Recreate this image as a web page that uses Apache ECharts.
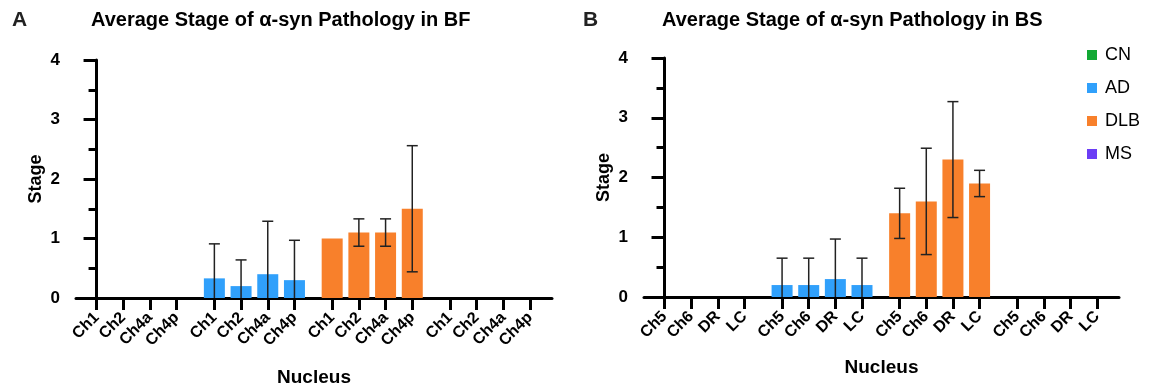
<!DOCTYPE html>
<html>
<head>
<meta charset="utf-8">
<script src="https://cdn.jsdelivr.net/npm/echarts@6/dist/echarts.min.js"></script>
<style>
  html, body { margin: 0; padding: 0; background: #fff; }
  #chart { width: 1152px; height: 389px; }
</style>
</head>
<body>
<div id="chart"></div>
<script>
// groups (legend) and nuclei per panel
const groups = ['CN', 'AD', 'DLB', 'MS']
const bfNuclei = ['Ch1', 'Ch2', 'Ch4a', 'Ch4p']
const bsNuclei = ['Ch5', 'Ch6', 'DR', 'LC']
const yTicks = [0, 1, 2, 3, 4]

// panel A: basal forebrain, mean and SD per group
const bfCN = [0, 0, 0, 0]
const bfAD = [0.33, 0.2, 0.4, 0.3]
const bfADsd = [0.58, 0.44, 0.89, 0.67]
const bfDLB = [1.0, 1.1, 1.1, 1.5]
const bfDLBsd = [0, 0.23, 0.23, 1.06]
const bfMS = [0, 0, 0, 0]

// panel B: brainstem
const bsCN = [0, 0, 0, 0]
const bsAD = [0.2, 0.2, 0.3, 0.2]
const bsADsd = [0.45, 0.45, 0.67, 0.45]
const bsDLB = [1.4, 1.6, 2.3, 1.9]
const bsDLBsd = [0.42, 0.89, 0.97, 0.22]
const bsMS = [0, 0, 0, 0]

const colors = { CN: '#12A834', AD: '#30A0FB', DLB: '#F8802B', MS: '#6B3DF5' }
const FONT = 'Liberation Sans, Arial, Helvetica, sans-serif'

// x layout: groups spaced a bit wider than nuclei
const GROUP_STEP = 4.413
const xPos = (g, i) => g * GROUP_STEP + i
const positions = []
groups.forEach((_, g) => bfNuclei.forEach((_, i) => positions.push(xPos(g, i))))

function labelAt(names) {
  return (v) => {
    let best = 0
    positions.forEach((p, k) => { if (Math.abs(p - v) < Math.abs(positions[best] - v)) best = k })
    return names[best % 4]
  }
}

function xAxis(gridIndex, names, nameGap) {
  return {
    type: 'value', gridIndex, min: -0.77, max: 17.06,
    splitLine: { show: false },
    axisLine: { show: true, lineStyle: { color: '#000', width: 3 } },
    axisTick: { show: true, customValues: positions, length: 12, lineStyle: { color: '#000', width: 3 } },
    axisLabel: {
      customValues: positions, formatter: labelAt(names), rotate: 45, margin: 17,
      color: '#000', fontSize: 16, fontWeight: 'bold', fontFamily: FONT
    },
    name: 'Nucleus', nameLocation: 'middle', nameGap, nameMoveOverlap: false,
    nameTextStyle: { color: '#000', fontSize: 19, fontWeight: 'bold', fontFamily: FONT }
  }
}

function yAxis(gridIndex) {
  return {
    type: 'value', gridIndex, min: yTicks[0], max: yTicks[yTicks.length - 1], interval: 1,
    splitLine: { show: false },
    axisLine: { show: true, lineStyle: { color: '#000', width: 3 } },
    axisTick: { show: true, length: 13, lineStyle: { color: '#000', width: 3 } },
    minorTick: { show: true, splitNumber: 2, length: 8, lineStyle: { color: '#000', width: 3 } },
    axisLabel: { margin: 16, color: '#000', fontSize: 17, fontWeight: 'bold', fontFamily: FONT },
    name: 'Stage', nameLocation: 'middle', nameGap: 31, nameRotate: 90, nameMoveOverlap: false,
    nameTextStyle: { color: '#000', fontSize: 18, fontWeight: 'bold', fontFamily: FONT }
  }
}

function barSeries(name, g, values, axis) {
  return {
    type: 'bar', name, xAxisIndex: axis, yAxisIndex: axis,
    barWidth: 21, barGap: '-100%',
    itemStyle: { color: colors[name] },
    data: values.map((v, i) => [xPos(g, i), v])
  }
}

function errorSeries(g, means, sds, axis) {
  return {
    type: 'custom', xAxisIndex: axis, yAxisIndex: axis, z: 5, silent: true,
    data: means.map((m, i) => [xPos(g, i), m, sds[i]]),
    renderItem(params, api) {
      const x = api.value(0), m = api.value(1), sd = api.value(2)
      if (!sd) return null
      const lo = Math.max(0, m - sd)
      const top = api.coord([x, m + sd])
      const bot = api.coord([x, lo])
      const half = 5.5
      const style = { stroke: '#222', lineWidth: 1.5 }
      const kids = [
        { type: 'line', shape: { x1: top[0], y1: top[1], x2: bot[0], y2: bot[1] }, style },
        { type: 'line', shape: { x1: top[0] - half, y1: top[1], x2: top[0] + half, y2: top[1] }, style }
      ]
      if (m - sd > 0) {
        kids.push({ type: 'line', shape: { x1: bot[0] - half, y1: bot[1], x2: bot[0] + half, y2: bot[1] }, style })
      }
      return { type: 'group', children: kids }
    }
  }
}

const titleStyle = { color: '#000', fontSize: 20, fontWeight: 'bold', fontFamily: FONT }

const option = {
  animation: false,
  title: [
    { text: 'Average Stage of α-syn Pathology in BF', left: 91, top: 10, padding: 0, textStyle: titleStyle },
    { text: 'Average Stage of α-syn Pathology in BS', left: 662, top: 10, padding: 0, textStyle: titleStyle }
  ],
  graphic: [
    { type: 'text', left: 12, top: 10, style: { text: 'A', fill: '#222', font: 'bold 21px ' + FONT } },
    { type: 'text', left: 583, top: 10, style: { text: 'B', fill: '#222', font: 'bold 21px ' + FONT } }
  ],
  legend: {
    data: groups, orient: 'vertical', left: 1087, top: 46, padding: 0,
    icon: 'rect', itemWidth: 10, itemHeight: 10, itemGap: 15,
    textStyle: { color: '#000', fontSize: 18, fontFamily: FONT, padding: [0, 0, 0, 3] }
  },
  grid: [
    { left: 76, top: 60, width: 476, height: 238, outerBoundsMode: 'none', containLabel: false },
    { left: 644, top: 58, width: 475, height: 239, outerBoundsMode: 'none', containLabel: false }
  ],
  xAxis: [xAxis(0, bfNuclei, 70), xAxis(1, bsNuclei, 61)],
  yAxis: [yAxis(0), yAxis(1)],
  series: [
    barSeries('CN', 0, bfCN, 0), barSeries('AD', 1, bfAD, 0),
    barSeries('DLB', 2, bfDLB, 0), barSeries('MS', 3, bfMS, 0),
    errorSeries(1, bfAD, bfADsd, 0), errorSeries(2, bfDLB, bfDLBsd, 0),
    barSeries('CN', 0, bsCN, 1), barSeries('AD', 1, bsAD, 1),
    barSeries('DLB', 2, bsDLB, 1), barSeries('MS', 3, bsMS, 1),
    errorSeries(1, bsAD, bsADsd, 1), errorSeries(2, bsDLB, bsDLBsd, 1)
  ]
}

const chart = echarts.init(document.getElementById('chart'), null, { renderer: 'canvas' })
chart.setOption(option)
</script>
</body>
</html>
